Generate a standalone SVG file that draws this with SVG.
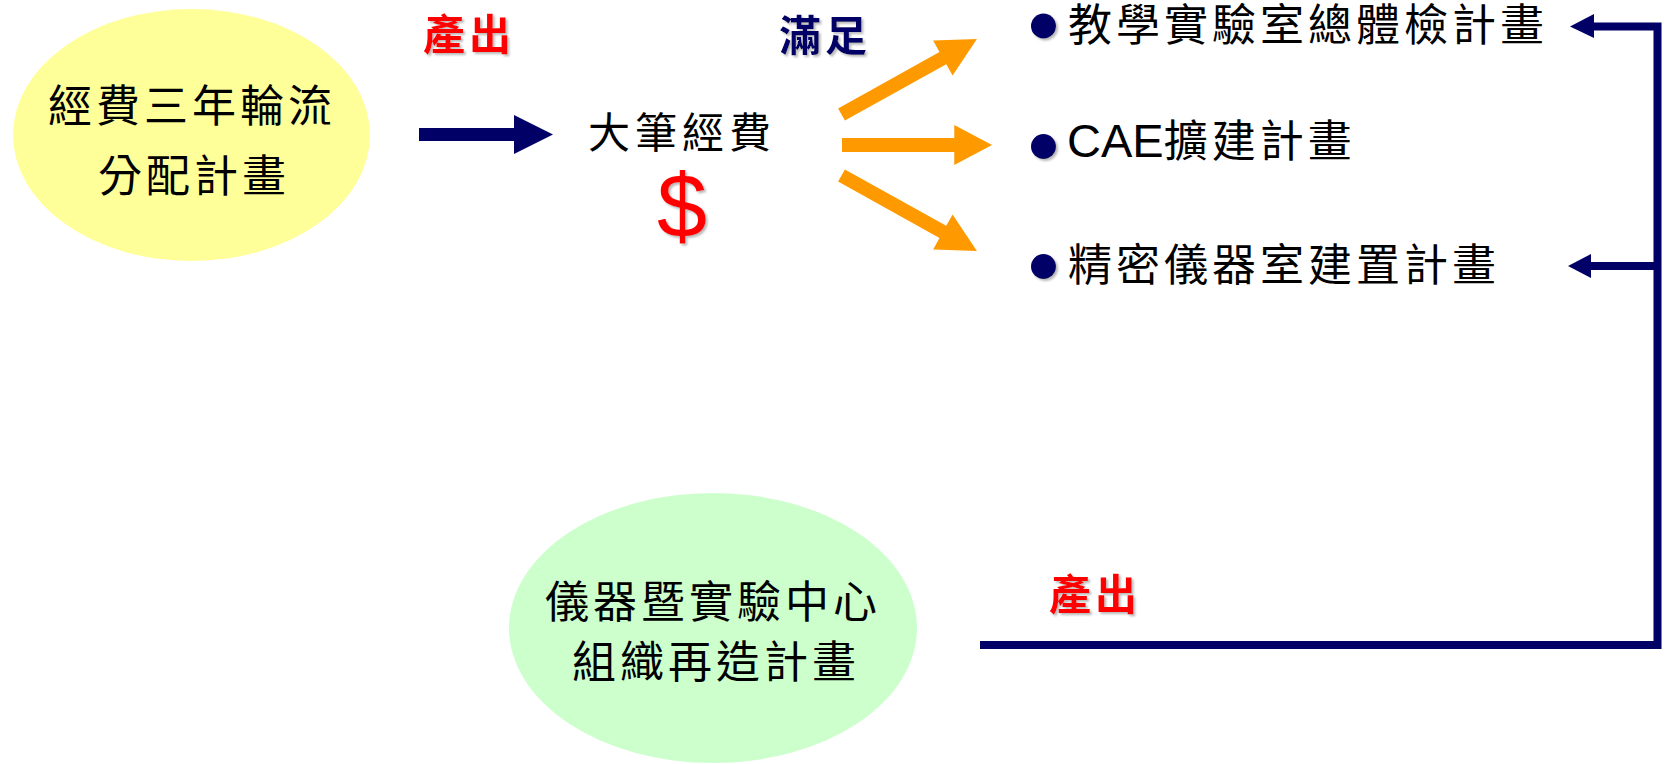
<svg xmlns="http://www.w3.org/2000/svg" xmlns:xlink="http://www.w3.org/1999/xlink" width="1665" height="764" viewBox="0 0 1665 764">
<style>
.cjk{font-family:"Noto Sans CJK TC","Noto Sans CJK SC",sans-serif;font-size:44px;letter-spacing:4px;fill:#000}
.lbl{font-family:"Noto Sans CJK TC","Noto Sans CJK SC",sans-serif;font-size:42px;font-weight:bold;letter-spacing:4px}
.red{fill:#FF0000}
.navyt{fill:#000066}
.navy{fill:#000066}
.orange{fill:#FF9900}
.line{fill:none;stroke:#000066;stroke-width:8}
</style>
<defs>
<filter id="sh" x="-20%" y="-20%" width="150%" height="150%">
<feDropShadow dx="2" dy="2" stdDeviation="1.2" flood-color="#808080" flood-opacity="0.55"/>
</filter>
<path id="orangeArrow" d="M0,-7 L116,-7 L116,-20 L155,0 L116,20 L116,7 L0,7Z"/>
</defs>
<rect width="1665" height="764" fill="#fff"/>

<g id="node-fund-plan">
<ellipse cx="191.5" cy="135" rx="178.5" ry="126" fill="#FFFF99"/>
<text class="cjk" x="48" y="122">經費三年輪流</text>
<text class="cjk" x="98" y="192">分配計畫</text>
</g>

<g id="node-big-fund">
<text class="cjk" x="588" y="148" style="font-size:42px;letter-spacing:5px">大筆經費</text>
<text x="682" y="237" text-anchor="middle" font-family="Liberation Sans, Arial, sans-serif" font-size="90" fill="#FF0000" filter="url(#sh)">$</text>
</g>

<g id="node-item1">
<circle cx="1043.5" cy="26" r="12.5" class="navy" filter="url(#sh)"/>
<text class="cjk" x="1068" y="41">教學實驗室總體檢計畫</text>
</g>
<g id="node-item2">
<circle cx="1043.5" cy="146.5" r="12.5" class="navy" filter="url(#sh)"/>
<text class="cjk" x="1067" y="157"><tspan font-family="Liberation Sans, Arial, sans-serif" font-size="47" letter-spacing="0">CAE</tspan>擴建計畫</text>
</g>
<g id="node-item3">
<circle cx="1043.5" cy="266.5" r="12.5" class="navy" filter="url(#sh)"/>
<text class="cjk" x="1068" y="281">精密儀器室建置計畫</text>
</g>

<g id="node-reorg">
<ellipse cx="713" cy="628" rx="204" ry="135" fill="#CCFFCC"/>
<text class="cjk" x="545" y="618">儀器暨實驗中心</text>
<text class="cjk" x="572" y="678">組織再造計畫</text>
</g>

<g id="labels">
<text class="lbl red" x="423" y="50" filter="url(#sh)">產出</text>
<text class="lbl navyt" x="779" y="51" filter="url(#sh)">滿足</text>
<text class="lbl red" x="1049" y="610" filter="url(#sh)">產出</text>
</g>

<g id="connectors">
<path class="navy" d="M419,128 L514,128 L514,115 L553,134.5 L514,154 L514,141 L419,141Z"/>
<use xlink:href="#orangeArrow" class="orange" transform="translate(841.5,114.5) rotate(-29.1)"/>
<use xlink:href="#orangeArrow" class="orange" transform="translate(842,145) scale(0.968,1)"/>
<use xlink:href="#orangeArrow" class="orange" transform="translate(841.5,175.5) rotate(29.1)"/>
<polyline class="line" points="980,645 1657.5,645 1657.5,26.5 1592,26.5"/>
<polygon class="navy" points="1570,26.5 1594,14 1594,38"/>
<polyline class="line" points="1657.5,266 1589,266"/>
<polygon class="navy" points="1568,266 1591,254 1591,278"/>
</g>
</svg>
